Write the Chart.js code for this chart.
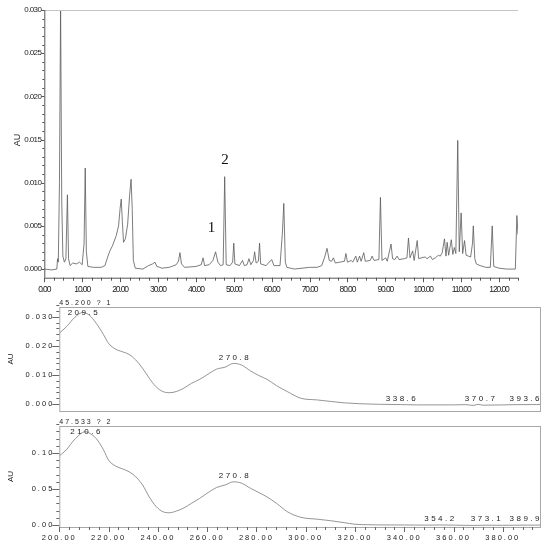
<!DOCTYPE html>
<html lang="en">
<head>
<meta charset="UTF-8">
<title>Chromatogram and UV spectra</title>
<script src="https://cdn.jsdelivr.net/npm/chart.js"></script>
<style>
  body { margin: 0; background: #fff; }
  .wrap { position: relative; width: 550px; height: 549px; }
  .wrap canvas { position: absolute; left: 0; top: 0; }
</style>
</head>
<body>
<div class="wrap">
  <canvas id="chromChart" width="550" height="549"></canvas>
  <canvas id="spec1Chart" width="550" height="549"></canvas>
  <canvas id="spec2Chart" width="550" height="549"></canvas>
</div>
<script>
// chromatogram (time in min, absorbance in AU)
const chromTime = [0, 2, 3.3, 3.5, 3.7, 4.0, 4.3, 4.6, 4.9, 5.3, 5.7, 6.1, 6.4, 6.8, 7.5, 8.5, 9.3, 10.0, 10.5, 10.8,
  11.1, 11.5, 13, 15, 16, 16.8, 17.3, 18, 19, 19.6, 20.0, 20.3, 20.6, 20.9, 21.4, 22.0, 22.5, 22.9, 23.2, 23.5,
  24, 26, 27.5, 28.6, 29.2, 29.7, 30.5, 31, 33, 34.8, 35.4, 35.8, 36.2, 37, 40, 41.4, 41.9, 42.3, 43.5, 44.5,
  45.2, 45.8, 46.5, 47.2, 47.6, 48.0, 49, 49.7, 50.0, 50.3, 51.5, 52.3, 52.8, 53.5, 54.0, 54.5, 55.2, 55.5, 55.9, 56.5,
  56.8, 57.1, 58.5, 60, 60.6, 62.2, 62.8, 63.2, 63.6, 64, 66, 68, 70, 72, 73.2, 74, 74.6, 75.2, 75.8, 76.3,
  76.8, 78, 79.2, 79.6, 80, 81, 81.4, 82.2, 82.6, 83.2, 83.6, 84.3, 84.7, 86, 86.5, 87, 88.3, 88.7, 89.1, 90.1,
  90.5, 91.5, 91.9, 92.5, 93.1, 93.6, 95, 95.7, 96.1, 96.5, 97.2, 97.6, 98.4, 98.8, 99.5, 100.5, 101, 101.9, 102.4, 103.2,
  104, 104.5, 105, 105.6, 106.0, 106.3, 106.7, 107.4, 107.8, 108.2, 108.6, 109.1, 109.5, 110.0, 110.4, 110.9, 111.3, 111.9, 112.5, 113.0,
  113.2, 113.6, 114.0, 115, 116.5, 117.7, 118.2, 118.6, 120, 122, 124.3, 124.7, 125];
const chromAU = [0.0000, -0.0001, 0.0000, 0.0012, 0.0008, 0.0100, 0.0305, 0.0080, 0.0015, 0.0008, 0.0012, 0.0086, 0.0012, 0.0004, 0.0007, 0.0006, 0.0008, 0.0005, 0.0030, 0.0117,
  0.0020, 0.0003, 0.0002, 0.0002, 0.0004, 0.0015, 0.0021, 0.0027, 0.0039, 0.0050, 0.0070, 0.0081, 0.0055, 0.0031, 0.0035, 0.0052, 0.0085, 0.0104, 0.0070, 0.0010,
  0.0001, 0.0000, 0.0004, 0.0006, 0.0008, 0.0003, 0.0002, 0.0001, 0.0002, 0.0005, 0.0009, 0.0019, 0.0006, 0.0002, 0.0003, 0.0005, 0.0013, 0.0004, 0.0005, 0.0010,
  0.0020, 0.0008, 0.0004, 0.0005, 0.0107, 0.0005, 0.0004, 0.0008, 0.0030, 0.0006, 0.0004, 0.0010, 0.0004, 0.0005, 0.0012, 0.0005, 0.0010, 0.0020, 0.0007, 0.0009,
  0.0030, 0.0006, 0.0004, 0.0011, 0.0004, 0.0004, 0.0040, 0.0076, 0.0008, 0.0002, 0.0000, 0.0001, 0.0002, 0.0002, 0.0004, 0.0014, 0.0024, 0.0010, 0.0009, 0.0013,
  0.0007, 0.0008, 0.0009, 0.0018, 0.0008, 0.0010, 0.0008, 0.0015, 0.0008, 0.0015, 0.0009, 0.0019, 0.0009, 0.0010, 0.0015, 0.0010, 0.0011, 0.0083, 0.0010, 0.0013,
  0.0009, 0.0029, 0.0012, 0.0011, 0.0015, 0.0011, 0.0012, 0.0013, 0.0036, 0.0013, 0.0021, 0.0010, 0.0033, 0.0012, 0.0013, 0.0014, 0.0012, 0.0015, 0.0011, 0.0013,
  0.0016, 0.0015, 0.0019, 0.0035, 0.0015, 0.0031, 0.0016, 0.0034, 0.0017, 0.0025, 0.0018, 0.0149, 0.0020, 0.0065, 0.0018, 0.0033, 0.0016, 0.0015, 0.0014, 0.0030,
  0.0050, 0.0012, 0.0006, 0.0004, 0.0002, 0.0002, 0.0050, 0.0003, 0.0001, 0.0000, 0.0000, 0.0062, 0.0040];
const chromXTicks = [0, 10, 20, 30, 40, 50, 60, 70, 80, 90, 100, 110, 120];
const chromYTicks = [0, 0.005, 0.010, 0.015, 0.020, 0.025, 0.030];
const peakNames = ['1', '2'];
const peakLabelTime = [44.1, 47.7];
const peakLabelAU = [0.0048, 0.0126];

// UV spectrum of peak 1
const spec1Header = '45.200 ? 1';
const spec1Nm = [200, 203, 206, 209.5, 212, 215, 218, 220, 222.8, 225.6, 228.3, 231, 233.8, 236.5, 239.2, 242, 244.8, 247.5, 250.2, 253.6,
  257, 260.4, 263.8, 267.3, 270.8, 274, 277.6, 281, 284.3, 288.2, 292.5, 298, 304.8, 310, 315.7, 322, 330, 338.6, 345, 352,
  360, 365, 368, 370, 372, 380, 387, 393.6, 395.5];
const spec1AU = [0.0244, 0.0267, 0.0296, 0.0315, 0.0307, 0.0278, 0.0238, 0.0209, 0.0189, 0.0180, 0.0171, 0.0152, 0.0123, 0.0089, 0.0060, 0.0043, 0.0039, 0.0043, 0.0053, 0.0071,
  0.0085, 0.0103, 0.0120, 0.0127, 0.0140, 0.0134, 0.0114, 0.0098, 0.0085, 0.0063, 0.0043, 0.0020, 0.0014, 0.0009, 0.0004, 0.0001, -0.0001, -0.0002, -0.0003, -0.0003,
  -0.0003, -0.0002, -0.0005, -0.0001, -0.0004, -0.0003, -0.0002, -0.0002, -0.0001];
const spec1PeakNm = [209.5, 270.8, 338.6, 370.7, 393.6];
const spec1PeakAU = [0.0315, 0.0140, -0.0002, -0.0002, -0.0002];
const spec1YTicks = [0, 0.010, 0.020, 0.030];

// UV spectrum of peak 2
const spec2Header = '47.533 ? 2';
const spec2Nm = [200, 203, 206, 210.6, 212, 215, 218, 220, 222.8, 225.6, 228.3, 231, 233.8, 236.5, 239.2, 242, 244.8, 247.5, 250.2, 253.6,
  257, 260.4, 263.8, 267.3, 270.8, 274, 277.6, 281, 284.3, 288.2, 292.5, 298, 304.8, 310, 315.7, 320, 325, 330, 340, 350,
  354.2, 360, 368, 373.1, 380, 389.9, 395.5];
const spec2AU = [0.0958, 0.105, 0.118, 0.1296, 0.128, 0.120, 0.104, 0.090, 0.082, 0.078, 0.074, 0.067, 0.0556, 0.039, 0.026, 0.0185, 0.017, 0.0194, 0.023, 0.030,
  0.037, 0.045, 0.052, 0.0556, 0.060, 0.058, 0.051, 0.045, 0.039, 0.030, 0.0185, 0.0107, 0.008, 0.006, 0.0032, 0.0010, 0.0004, 0.0001, 0.0000, -0.0002,
  0.0000, -0.0002, -0.0006, -0.0003, -0.0004, -0.0002, -0.0002];
const spec2PeakNm = [210.6, 270.8, 354.2, 373.1, 389.9];
const spec2PeakAU = [0.1296, 0.060, 0.0000, -0.0003, -0.0002];
const spec2YTicks = [0, 0.05, 0.10];
const specXTicks = [200, 220, 240, 260, 280, 300, 320, 340, 360, 380];

const W = 550, H = 549;
const SANS = '"Liberation Sans", Arial, sans-serif';

function line(ctx, x1, y1, x2, y2) {
  ctx.beginPath();
  ctx.moveTo(x1, y1);
  ctx.lineTo(x2, y2);
  ctx.stroke();
}

function axisTitle(ctx, text, x, y, font) {
  ctx.save();
  ctx.translate(x, y);
  ctx.rotate(-Math.PI / 2);
  ctx.font = font;
  ctx.fillStyle = '#222';
  ctx.textAlign = 'center';
  ctx.textBaseline = 'middle';
  ctx.fillText(text, 0, 0);
  ctx.restore();
}

function points(xs, ys) {
  return xs.map((x, i) => ({ x: x, y: ys[i] }));
}

// build linear scales whose plot box sits at a fixed spot on the page
function boxOptions(area, xr, yr, xTicks, yTicks, xFmt, yFmt, font, showX) {
  return {
    responsive: false,
    devicePixelRatio: 1,
    animation: false,
    events: [],
    layout: { padding: { left: 0, top: area.top, right: W - area.right, bottom: 0 } },
    plugins: { legend: { display: false }, tooltip: { enabled: false } },
    scales: {
      x: {
        type: 'linear', min: xr[0], max: xr[1],
        grid: { display: false, drawTicks: false }, border: { display: false },
        afterBuildTicks: s => { s.ticks = xTicks.map(v => ({ value: v })); },
        afterFit: s => { s.height = H - area.bottom; },
        ticks: {
          display: showX, autoSkip: false, maxRotation: 0, padding: 6.5, z: 1,
          color: '#222', font: font.x, callback: v => v.toFixed(xFmt)
        }
      },
      y: {
        type: 'linear', min: yr[0], max: yr[1],
        grid: { display: false, drawTicks: false }, border: { display: false },
        afterBuildTicks: s => { s.ticks = yTicks.map(v => ({ value: v })); },
        afterFit: s => { s.width = area.left; },
        ticks: {
          autoSkip: false, padding: font.yPad, z: 0,
          color: '#222', font: font.y, callback: v => v.toFixed(yFmt)
        }
      }
    }
  };
}

// ---------- chromatogram ----------
const chromArea = { left: 44.3, top: 10, right: 518, bottom: 277.7 };
const chromOpts = boxOptions(chromArea, [0, 125], [-0.001, 0.030], chromXTicks, chromYTicks, 2, 3,
  { x: { family: SANS, size: 8.5 }, y: { family: SANS, size: 8 }, yPad: 3 }, true);

const chromFrame = {
  id: 'chromFrame',
  beforeDraw(chart) { chart.ctx.letterSpacing = '-0.6px'; },
  afterDatasetsDraw(chart) { chart.ctx.letterSpacing = '-1.1px'; },
  afterDraw(chart) {
    const { ctx, chartArea: a, scales: { x, y } } = chart;
    ctx.save();
    ctx.letterSpacing = '0px';
    ctx.lineWidth = 1;
    ctx.strokeStyle = '#c4c4c4';
    line(ctx, a.left, a.top + 0.5, a.right, a.top + 0.5);
    ctx.strokeStyle = '#555';
    line(ctx, a.left + 0.5, a.top, a.left + 0.5, a.bottom);
    line(ctx, a.left, a.bottom + 0.5, a.right, a.bottom + 0.5);
    // y ticks every 0.001, labelled every 0.005
    for (let i = 0; i <= 30; i++) {
      const py = Math.round(y.getPixelForValue(i * 0.001)) + 0.5;
      line(ctx, a.left - (i % 5 === 0 ? 3 : 2), py, a.left, py);
    }
    // x ticks every 2.5 min, labelled every 10
    for (let i = 0; i <= 50; i++) {
      const px = Math.round(x.getPixelForValue(i * 2.5)) + 0.5;
      line(ctx, px, a.bottom, px, a.bottom + (i % 4 === 0 ? 4.5 : 3));
    }
    axisTitle(ctx, 'AU', 18, 140, '9px ' + SANS);
    ctx.font = '15px "Liberation Serif", "Times New Roman", serif';
    ctx.fillStyle = '#111';
    ctx.textAlign = 'center';
    ctx.textBaseline = 'middle';
    peakNames.forEach((n, i) => {
      ctx.fillText(n, x.getPixelForValue(peakLabelTime[i]), y.getPixelForValue(peakLabelAU[i]));
    });
    ctx.restore();
  }
};

new Chart(document.getElementById('chromChart'), {
  type: 'line',
  data: { datasets: [{ data: points(chromTime, chromAU), borderColor: '#5a5a5a', borderWidth: 0.8, pointRadius: 0, tension: 0 }] },
  options: chromOpts,
  plugins: [chromFrame]
});

// ---------- UV spectra ----------
function specFrame(header, peakNm, peakAU, minorY, showX) {
  return {
    id: 'specFrame',
    beforeDraw(chart) { chart.ctx.letterSpacing = '2px'; },
    afterDraw(chart) {
      const { ctx, chartArea: a, scales: { x, y } } = chart;
      ctx.save();
      ctx.letterSpacing = '0px';
      ctx.lineWidth = 1;
      ctx.strokeStyle = '#a8a8a8';
      ctx.strokeRect(a.left + 0.5, a.top + 0.5, a.right - a.left - 1, a.bottom - a.top);
      ctx.strokeStyle = '#666';
      // y ticks: minor step, major on labelled values
      const n = Math.round(y.max / minorY);
      for (let i = 0; i <= n; i++) {
        const v = i * minorY;
        const py = Math.round(y.getPixelForValue(v)) + 0.5;
        const major = y.ticks.some(t => Math.abs(t.value - v) < minorY / 10);
        line(ctx, a.left - (major ? 7 : 3), py, a.left, py);
      }
      if (showX) {
        for (let v = 200; v <= x.max; v += 4) {
          const px = Math.round(x.getPixelForValue(v)) + 0.5;
          line(ctx, px, a.bottom, px, a.bottom + ((v - 200) % 20 === 0 ? 5 : 3));
        }
      }
      axisTitle(ctx, 'AU', 11, (a.top + a.bottom) / 2, '8px ' + SANS);
      ctx.fillStyle = '#222';
      ctx.textBaseline = 'middle';
      ctx.textAlign = 'left';
      ctx.font = '7px ' + SANS;
      ctx.letterSpacing = '2px';
      ctx.fillText(header, a.left, a.top - 3.5);
      ctx.font = '8px ' + SANS;
      ctx.letterSpacing = '2.5px';
      ctx.textAlign = 'center';
      peakNm.forEach((nm, i) => {
        const txt = nm.toFixed(1);
        const w = ctx.measureText(txt).width;
        let px = x.getPixelForValue(nm) + 1.2;
        px = Math.min(px, a.right - w / 2 + 1);
        const py = Math.max(y.getPixelForValue(peakAU[i]) - 6, a.top + 6);
        ctx.fillText(txt, px, py);
      });
      ctx.restore();
    }
  };
}

const specFont = { x: { family: SANS, size: 7.5 }, y: { family: SANS, size: 7.5 }, yPad: 5 };

const spec1Area = { left: 59.3, top: 307, right: 541, bottom: 411 };
new Chart(document.getElementById('spec1Chart'), {
  type: 'line',
  data: { datasets: [{ data: points(spec1Nm, spec1AU), borderColor: '#7a7a7a', borderWidth: 0.8, pointRadius: 0, cubicInterpolationMode: 'monotone' }] },
  options: boxOptions(spec1Area, [200, 395.5], [-0.0024, 0.0334], specXTicks, spec1YTicks, 2, 3, specFont, false),
  plugins: [specFrame(spec1Header, spec1PeakNm, spec1PeakAU, 0.002, false)]
});

const spec2Area = { left: 59.3, top: 426, right: 541, bottom: 527 };
new Chart(document.getElementById('spec2Chart'), {
  type: 'line',
  data: { datasets: [{ data: points(spec2Nm, spec2AU), borderColor: '#7a7a7a', borderWidth: 0.8, pointRadius: 0, cubicInterpolationMode: 'monotone' }] },
  options: boxOptions(spec2Area, [200, 395.5], [-0.0028, 0.1375], specXTicks, spec2YTicks, 2, 2, specFont, true),
  plugins: [specFrame(spec2Header, spec2PeakNm, spec2PeakAU, 0.01, true)]
});
</script>
</body>
</html>
